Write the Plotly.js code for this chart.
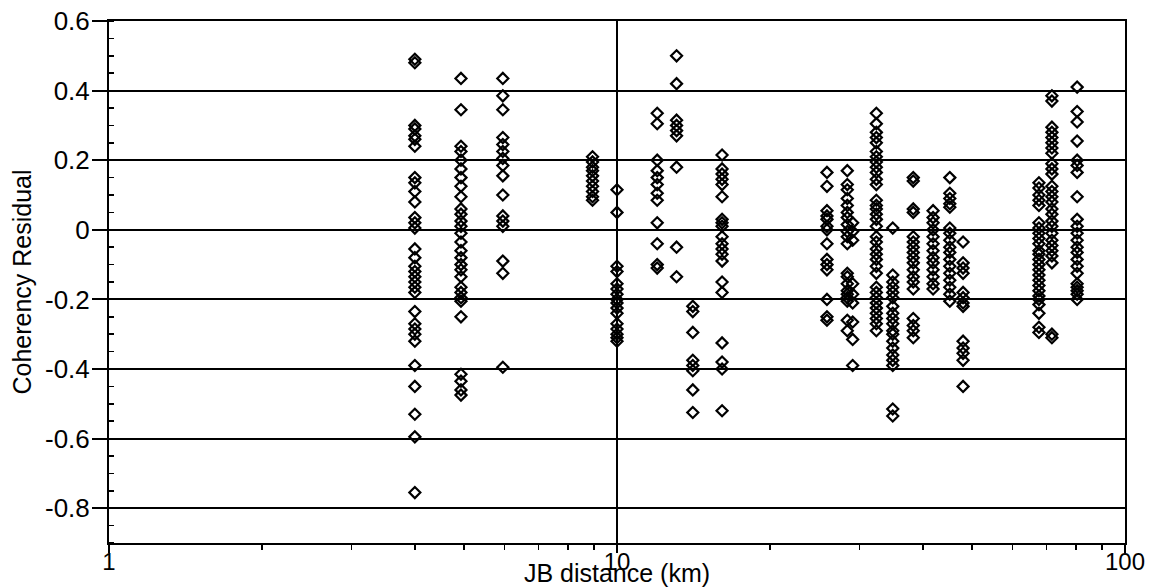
<!DOCTYPE html>
<html>
<head>
<meta charset="utf-8">
<script src="https://cdn.plot.ly/plotly-3.0.1.min.js"></script>
<style>
  html, body { margin: 0; padding: 0; background: #fff; }
  #chart { width: 1152px; height: 587px; }
</style>
</head>
<body>
<div id="chart"></div>
<script>
// Distance (km) of each vertical group of points
const distances = [4.0, 4.93, 5.96, 8.95, 10.0, 12.0, 13.1, 14.1, 16.1, 25.9, 28.4, 29.1, 32.4, 34.9, 38.3, 41.9, 45.2, 48.0, 67.7, 71.8, 80.5];

// Coherency residuals for each group (same order as distances)
const res4_0  = [0.49, 0.48, 0.30, 0.29, 0.27, 0.26, 0.24, 0.15, 0.135, 0.11, 0.08, 0.035, 0.02, 0.005, -0.055, -0.08, -0.105, -0.12, -0.135, -0.15, -0.165, -0.18, -0.235, -0.27, -0.285, -0.30, -0.32, -0.39, -0.45, -0.53, -0.595, -0.755];
const res4_9  = [0.435, 0.345, 0.24, 0.225, 0.20, 0.175, 0.15, 0.125, 0.095, 0.06, 0.045, 0.025, 0.01, -0.01, -0.035, -0.06, -0.08, -0.10, -0.115, -0.135, -0.165, -0.18, -0.195, -0.205, -0.25, -0.415, -0.435, -0.46, -0.475];
const res6_0  = [0.435, 0.385, 0.345, 0.265, 0.245, 0.225, 0.205, 0.185, 0.155, 0.10, 0.04, 0.025, 0.01, -0.09, -0.125, -0.395];
const res8_9  = [0.21, 0.195, 0.18, 0.17, 0.155, 0.14, 0.125, 0.11, 0.095, 0.085];
const res10   = [0.115, 0.05, -0.105, -0.12, -0.155, -0.17, -0.185, -0.20, -0.21, -0.225, -0.24, -0.27, -0.285, -0.30, -0.31, -0.32];
const res12   = [0.335, 0.305, 0.20, 0.17, 0.15, 0.13, 0.105, 0.085, 0.02, -0.04, -0.10, -0.11];
const res13   = [0.50, 0.42, 0.315, 0.30, 0.285, 0.27, 0.18, -0.05, -0.135];
const res14   = [-0.22, -0.235, -0.295, -0.375, -0.39, -0.405, -0.46, -0.525];
const res16   = [0.215, 0.175, 0.16, 0.145, 0.13, 0.095, 0.03, 0.02, 0.01, -0.02, -0.04, -0.055, -0.07, -0.09, -0.15, -0.18, -0.325, -0.38, -0.40, -0.52];
const res26   = [0.165, 0.125, 0.055, 0.04, 0.03, 0.01, 0.0, -0.04, -0.085, -0.10, -0.115, -0.20, -0.25, -0.26];
const res28   = [0.17, 0.13, 0.115, 0.09, 0.07, 0.05, 0.035, 0.015, -0.005, -0.02, -0.04, -0.125, -0.135, -0.155, -0.175, -0.185, -0.195, -0.205, -0.26, -0.29];
const res29   = [0.02, -0.005, -0.03, -0.155, -0.185, -0.21, -0.265, -0.315, -0.39];
const res32   = [0.335, 0.305, 0.28, 0.265, 0.25, 0.225, 0.21, 0.195, 0.18, 0.165, 0.145, 0.13, 0.085, 0.07, 0.06, 0.045, 0.03, 0.01, -0.02, -0.035, -0.055, -0.07, -0.085, -0.105, -0.125, -0.165, -0.18, -0.195, -0.21, -0.225, -0.24, -0.255, -0.27, -0.29];
const res35   = [0.005, -0.13, -0.15, -0.165, -0.18, -0.195, -0.22, -0.24, -0.255, -0.27, -0.29, -0.30, -0.32, -0.34, -0.36, -0.375, -0.39, -0.515, -0.535];
const res38   = [0.15, 0.14, 0.06, 0.05, -0.02, -0.035, -0.05, -0.065, -0.08, -0.095, -0.115, -0.135, -0.15, -0.17, -0.255, -0.275, -0.29, -0.31];
const res42   = [0.055, 0.035, 0.02, 0.0, -0.02, -0.04, -0.06, -0.08, -0.095, -0.115, -0.135, -0.155, -0.17];
const res45   = [0.15, 0.105, 0.09, 0.075, 0.065, 0.005, -0.01, -0.03, -0.05, -0.065, -0.085, -0.105, -0.125, -0.145, -0.165, -0.185, -0.205];
const res48   = [-0.035, -0.095, -0.11, -0.125, -0.18, -0.195, -0.21, -0.22, -0.32, -0.34, -0.355, -0.375, -0.45];
const res68   = [0.135, 0.12, 0.10, 0.085, 0.07, 0.02, 0.005, -0.01, -0.025, -0.04, -0.06, -0.07, -0.085, -0.10, -0.115, -0.13, -0.145, -0.16, -0.175, -0.19, -0.20, -0.215, -0.24, -0.28, -0.295];
const res72   = [0.385, 0.37, 0.295, 0.28, 0.265, 0.25, 0.235, 0.22, 0.19, 0.175, 0.16, 0.125, 0.11, 0.095, 0.08, 0.06, 0.045, 0.025, 0.01, -0.01, -0.03, -0.045, -0.06, -0.075, -0.095, -0.30, -0.31];
const res80   = [0.41, 0.34, 0.31, 0.255, 0.20, 0.185, 0.165, 0.095, 0.03, 0.01, -0.01, -0.03, -0.05, -0.065, -0.085, -0.105, -0.125, -0.155, -0.165, -0.175, -0.185, -0.20];

const residualGroups = [res4_0, res4_9, res6_0, res8_9, res10, res12, res13, res14, res16, res26, res28, res29, res32, res35, res38, res42, res45, res48, res68, res72, res80];

// Tick labels
const xTickVals = [1, 10, 100];
const xTickText = ['1', '10', '100'];
const xMinorVals = [2, 3, 4, 5, 6, 7, 8, 9, 20, 30, 40, 50, 60, 70, 80, 90];
const yTickVals = [0.6, 0.4, 0.2, 0, -0.2, -0.4, -0.6, -0.8];
const yTickText = ['0.6', '0.4', '0.2', '0', '-0.2', '-0.4', '-0.6', '-0.8'];

const xs = [], ys = [];
distances.forEach((d, i) => {
  residualGroups[i].forEach(v => { xs.push(d); ys.push(v); });
});

const FONT = 'Liberation Sans, Arial, Helvetica, sans-serif';

const trace = {
  type: 'scatter',
  mode: 'markers',
  x: xs,
  y: ys,
  marker: {
    symbol: 'diamond-open',
    size: 8.5,
    color: '#000',
    line: { width: 2.2, color: '#000' }
  },
  hoverinfo: 'x+y',
  showlegend: false
};

const layout = {
  width: 1152,
  height: 587,
  margin: { l: 109, r: 27, t: 21, b: 44 },
  paper_bgcolor: '#fff',
  plot_bgcolor: '#fff',
  font: { family: FONT, color: '#000' },
  showlegend: false,
  xaxis: {
    type: 'log',
    range: [0, 2],
    tickmode: 'array',
    tickvals: xTickVals,
    ticktext: xTickText,
    ticks: 'outside',
    ticklen: 8,
    tickwidth: 2,
    tickcolor: '#000',
    ticklabelstandoff: -12,
    showline: true,
    linecolor: '#000',
    linewidth: 2,
    mirror: true,
    showgrid: true,
    gridcolor: '#000',
    gridwidth: 2,
    zeroline: false,
    tickfont: { size: 24, family: FONT, color: '#000' },
    minor: {
      tickmode: 'array',
      tickvals: xMinorVals,
      ticks: 'outside',
      ticklen: 5,
      tickwidth: 1.5,
      tickcolor: '#000',
      showgrid: false
    },
    title: { text: 'JB distance (km)', font: { size: 25, family: FONT, color: '#000' } },
    automargin: false
  },
  yaxis: {
    range: [-0.9, 0.6],
    tickmode: 'array',
    tickvals: yTickVals,
    ticktext: yTickText,
    ticks: 'outside',
    ticklen: 15,
    tickwidth: 2,
    tickcolor: '#000',
    ticklabelstandoff: -3,
    showline: true,
    linecolor: '#000',
    linewidth: 2,
    mirror: true,
    showgrid: true,
    gridcolor: '#000',
    gridwidth: 2,
    zeroline: false,
    tickfont: { size: 26, family: FONT, color: '#000' },
    minor: {
      tickmode: 'linear',
      tick0: 0,
      dtick: 0.05,
      ticks: 'inside',
      ticklen: 5,
      tickwidth: 1.5,
      tickcolor: '#000',
      showgrid: false
    },
    title: { text: 'Coherency Residual', font: { size: 25, family: FONT, color: '#000' }, standoff: 6 },
    automargin: false
  }
};

Plotly.newPlot('chart', [trace], layout, { staticPlot: true, displayModeBar: false });
</script>
</body>
</html>
